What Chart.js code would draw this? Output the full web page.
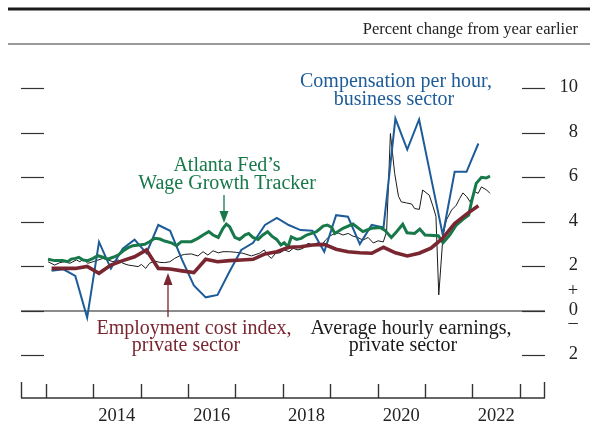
<!DOCTYPE html>
<html>
<head>
<meta charset="utf-8">
<script src="https://cdn.jsdelivr.net/npm/chart.js@4.4.1/dist/chart.umd.min.js"></script>
<style>
  html, body { margin: 0; padding: 0; background: #fff; }
  #wrap { width: 590px; height: 423px; }
</style>
</head>
<body>
<div id="wrap"><canvas id="chart" width="590" height="423"></canvas></div>
<script>
const SERIF = "'Liberation Serif', 'Times New Roman', serif";
const BLUE = '#1d5c98', GREEN = '#17784a', RED = '#7a2630', BLACK = '#1a1a1a';

// quarterly series (compensation per hour, ECI), plotted at mid-quarter
const quarters = [
  '2013Q1','2013Q2','2013Q3','2013Q4','2014Q1','2014Q2','2014Q3','2014Q4',
  '2015Q1','2015Q2','2015Q3','2015Q4','2016Q1','2016Q2','2016Q3','2016Q4',
  '2017Q1','2017Q2','2017Q3','2017Q4','2018Q1','2018Q2','2018Q3','2018Q4',
  '2019Q1','2019Q2','2019Q3','2019Q4','2020Q1','2020Q2','2020Q3','2020Q4',
  '2021Q1','2021Q2','2021Q3','2021Q4','2022Q1'
];
const compPerHour = [
  1.8, 1.87, 1.57, -0.3, 3.1, 1.9, 2.8, 3.2,
  2.6, 3.86, 3.6, 2.3, 1.15, 0.61, 0.72, 1.76,
  2.74, 3.06, 3.86, 4.18, 3.86, 3.63, 3.6, 2.66,
  4.3, 4.23, 3.0, 3.86, 3.75, 8.64, 7.25, 8.6,
  6.0, 3.41, 6.25, 6.25, 7.52
];
const eciPrivate = [
  1.91, 1.91, 1.91, 2.0, 1.69, 2.06, 2.26, 2.43,
  2.74, 1.91, 1.88, 1.8, 1.72, 2.32, 2.21, 2.26,
  2.29, 2.32, 2.56, 2.66, 2.86, 2.88, 2.96, 2.99,
  2.77, 2.66, 2.61, 2.59, 2.86, 2.61, 2.47, 2.59,
  2.82, 3.27, 3.93, 4.35, 4.72
];

// monthly series, as (decimal year, value)
const atlYears = [
  2013.05, 2013.19, 2013.36, 2013.47, 2013.54, 2013.63, 2013.70, 2013.79, 2013.89, 2014.00,
  2014.10, 2014.21, 2014.31, 2014.42, 2014.53, 2014.63, 2014.74, 2014.84, 2014.97, 2015.09,
  2015.19, 2015.30, 2015.41, 2015.51, 2015.65, 2015.76, 2015.86, 2016.00, 2016.07, 2016.21,
  2016.32, 2016.44, 2016.53, 2016.64, 2016.74, 2016.81, 2016.88, 2016.99, 2017.09, 2017.20,
  2017.28, 2017.37, 2017.48, 2017.58, 2017.68, 2017.77, 2017.87, 2017.96, 2018.03, 2018.11,
  2018.18, 2018.29, 2018.39, 2018.50, 2018.61, 2018.71, 2018.78, 2018.85, 2018.94, 2019.03,
  2019.10, 2019.27, 2019.48, 2019.69, 2019.87, 2020.05, 2020.15, 2020.29, 2020.40, 2020.53,
  2020.62, 2020.78, 2020.89, 2021.00, 2021.28, 2021.38, 2021.52, 2021.66, 2021.80, 2021.92,
  2021.98, 2022.08, 2022.19, 2022.29, 2022.37
];
const atlTracker = [
  2.32, 2.26, 2.26, 2.21, 2.33, 2.36, 2.41, 2.29, 2.26, 2.36,
  2.48, 2.41, 2.33, 2.41, 2.51, 2.69, 2.84, 2.93, 2.96, 2.99,
  3.11, 3.26, 3.23, 3.14, 3.06, 2.93, 3.11, 3.11, 3.11, 3.26,
  3.41, 3.56, 3.41, 3.30, 3.71, 3.90, 3.78, 3.30, 3.21, 3.41,
  3.48, 3.30, 3.21, 3.41, 3.56, 3.36, 3.21, 2.96, 3.06, 2.88,
  3.33, 3.21, 3.26, 3.41, 3.48, 3.56, 3.68, 3.81, 3.86, 3.75,
  3.48, 3.71, 3.90, 3.56, 3.71, 3.75, 3.63, 3.30, 3.56, 3.89,
  3.51, 3.48, 3.68, 3.41, 3.38, 3.06, 3.41, 3.86, 4.11, 4.30,
  4.90, 5.73, 6.00, 5.97, 6.05
];

const aheYears = [
  2013.05, 2013.19, 2013.30, 2013.40, 2013.51, 2013.65, 2013.72, 2013.79, 2013.89, 2014.00,
  2014.10, 2014.21, 2014.31, 2014.42, 2014.53, 2014.63, 2014.74, 2014.84, 2014.95, 2015.02,
  2015.11, 2015.19, 2015.30, 2015.41, 2015.51, 2015.62, 2015.72, 2015.83, 2015.93, 2016.07,
  2016.21, 2016.32, 2016.42, 2016.53, 2016.64, 2016.74, 2016.88, 2017.02, 2017.16, 2017.34,
  2017.51, 2017.61, 2017.68, 2017.76, 2017.85, 2017.94, 2018.04, 2018.13, 2018.22, 2018.32,
  2018.43, 2018.53, 2018.64, 2018.73, 2018.82, 2018.90, 2018.99, 2019.06, 2019.17, 2019.27,
  2019.38, 2019.48, 2019.58, 2019.69, 2019.80, 2019.91, 2020.01, 2020.12, 2020.19, 2020.27,
  2020.36, 2020.44, 2020.50, 2020.61, 2020.72, 2020.78, 2020.88, 2020.95, 2021.09, 2021.17,
  2021.23, 2021.29, 2021.38, 2021.45, 2021.56, 2021.66, 2021.73, 2021.80, 2021.88, 2021.95,
  2022.05, 2022.12, 2022.19, 2022.30, 2022.37
];
const aheEarnings = [
  2.21, 2.06, 2.17, 2.21, 2.14, 2.29, 2.21, 2.32, 2.14, 2.21,
  2.28, 2.36, 2.29, 2.21, 2.29, 2.14, 2.06, 2.03, 1.99, 2.09,
  1.91, 2.14, 2.24, 2.18, 2.17, 2.21, 2.36, 2.48, 2.54, 2.56,
  2.47, 2.66, 2.51, 2.70, 2.61, 2.66, 2.66, 2.63, 2.59, 2.47,
  2.59, 2.74, 2.51, 2.36, 2.59, 2.61, 2.74, 2.66, 2.81, 2.74,
  2.81, 3.04, 2.96, 3.06, 2.96, 3.18, 3.36, 3.44, 3.50, 3.41,
  3.48, 3.36, 3.30, 3.18, 3.30, 3.05, 3.15, 3.10, 3.56, 7.97,
  6.17, 5.15, 4.90, 4.85, 4.80, 4.60, 4.56, 5.43, 5.20, 4.68,
  4.25, 0.72, 3.40, 4.08, 4.53, 4.75, 5.05, 5.30, 5.13, 4.90,
  5.35, 5.28, 5.57, 5.43, 5.28
];

const yTicks = [10, 8, 6, 4, 2, 0, -2];
const yTickLabels = ['10', '8', '6', '4', '2', '0', '2'];
const yearTicks = [2013, 2014, 2015, 2016, 2017, 2018, 2019, 2020, 2021, 2022, 2023];
const yearLabels = [2014, 2016, 2018, 2020, 2022];

function quarterToYear(q) {
  return parseInt(q.slice(0, 4)) + (parseInt(q.slice(5)) - 1) * 0.25 + 0.125;
}
const pairs = (xs, ys) => xs.map((x, i) => ({ x: x, y: ys[i] }));
const qPairs = ys => quarters.map((q, i) => ({ x: quarterToYear(q), y: ys[i] }));

function line(ctx, x1, y1, x2, y2) {
  ctx.beginPath(); ctx.moveTo(x1, y1); ctx.lineTo(x2, y2); ctx.stroke();
}
function arrow(ctx, x, yTail, yTip, color) {
  const dir = yTip > yTail ? 1 : -1;
  ctx.strokeStyle = color; ctx.fillStyle = color; ctx.lineWidth = 1.3;
  line(ctx, x, yTail, x, yTip - dir * 8);
  ctx.beginPath();
  ctx.moveTo(x, yTip);
  ctx.lineTo(x - 4.5, yTip - dir * 12);
  ctx.lineTo(x + 4.5, yTip - dir * 12);
  ctx.closePath(); ctx.fill();
}

const frame = {
  id: 'frame',
  beforeDatasetsDraw(chart) {
    const { ctx, chartArea: a, scales: { x, y } } = chart;
    ctx.save();
    const y0 = Math.round(y.getPixelForValue(0));
    ctx.strokeStyle = '#8c8c8c'; ctx.lineWidth = 2;
    line(ctx, a.left, y0, a.right, y0);
    ctx.strokeStyle = '#333'; ctx.lineWidth = 1.2;
    yTicks.forEach(v => {
      const p = Math.round(y.getPixelForValue(v)) + 0.5;
      line(ctx, a.left, p, a.left + 23, p);
      line(ctx, a.right - 23, p, a.right, p);
    });
    // bottom axis with year ticks
    const yb = a.bottom;
    ctx.lineWidth = 1.4; ctx.strokeStyle = '#333';
    line(ctx, a.left, yb, a.right, yb);
    line(ctx, a.left + 0.5, yb, a.left + 0.5, yb - 16);
    line(ctx, a.right - 0.5, yb, a.right - 0.5, yb - 16);
    yearTicks.forEach(t => {
      const p = Math.round(x.getPixelForValue(t)) + 0.5;
      line(ctx, p, yb, p, yb - 14);
    });
    ctx.restore();
  },
  afterDraw(chart) {
    const { ctx, chartArea: a, scales: { x, y } } = chart;
    ctx.save();
    // header rules and unit note
    ctx.strokeStyle = '#1a1a1a'; ctx.lineWidth = 3;
    line(ctx, 8, 9, 590, 9);
    ctx.strokeStyle = '#9a9a9a'; ctx.lineWidth = 2;
    line(ctx, 8, 44, 590, 44);
    ctx.fillStyle = '#222';
    ctx.font = `16.5px ${SERIF}`;
    ctx.textAlign = 'right'; ctx.textBaseline = 'alphabetic';
    ctx.fillText('Percent change from year earlier', 578, 34);

    // right tick labels
    ctx.font = `18.5px ${SERIF}`;
    ctx.textBaseline = 'middle';
    yTicks.forEach((v, i) => {
      ctx.fillText(yTickLabels[i], 578, y.getPixelForValue(v) - 1);
    });
    ctx.textAlign = 'center';
    const y0 = y.getPixelForValue(0);
    ctx.fillText('+', 573, y0 - 20);
    ctx.fillText('\u2013', 573, y0 + 12);

    // year labels
    ctx.textBaseline = 'alphabetic';
    yearLabels.forEach(t => ctx.fillText(String(t), x.getPixelForValue(t + 0.5), 421));

    // series labels
    ctx.font = `20px ${SERIF}`;
    ctx.fillStyle = BLUE;
    ctx.fillText('Compensation per hour,', 396, 87);
    ctx.fillText('business sector', 394, 105);
    ctx.fillStyle = GREEN;
    ctx.fillText('Atlanta Fed\u2019s', 227, 171);
    ctx.fillText('Wage Growth Tracker', 227, 189);
    ctx.fillStyle = RED;
    ctx.fillText('Employment cost index,', 194, 334);
    ctx.fillText('private sector', 186, 351);
    ctx.fillStyle = '#1a1a1a';
    ctx.fillText('Average hourly earnings,', 411, 334);
    ctx.fillText('private sector', 403, 351);

    arrow(ctx, 224, 195, 223, GREEN);
    arrow(ctx, 168, 317, 273, RED);
    ctx.restore();
  }
};

new Chart(document.getElementById('chart'), {
  type: 'line',
  data: {
    datasets: [
      { label: 'Employment cost index, private sector', data: qPairs(eciPrivate),
        borderColor: RED, borderWidth: 3.6, order: 0 },
      { label: "Atlanta Fed's Wage Growth Tracker", data: pairs(atlYears, atlTracker),
        borderColor: GREEN, borderWidth: 3, order: 1 },
      { label: 'Compensation per hour, business sector', data: qPairs(compPerHour),
        borderColor: BLUE, borderWidth: 2, order: 2 },
      { label: 'Average hourly earnings, private sector', data: pairs(aheYears, aheEarnings),
        borderColor: BLACK, borderWidth: 1, order: 3 }
    ]
  },
  options: {
    responsive: false,
    animation: false,
    devicePixelRatio: 1,
    layout: { padding: { left: 21, right: 45, top: 66, bottom: 25 } },
    elements: { point: { radius: 0 }, line: { tension: 0, borderJoinStyle: 'miter' } },
    plugins: { legend: { display: false }, tooltip: { enabled: false } },
    scales: {
      x: { type: 'linear', min: 2012.48, max: 2023.53, display: false },
      y: { min: -3.91, max: 11, display: false }
    }
  },
  plugins: [frame]
});
</script>
</body>
</html>
